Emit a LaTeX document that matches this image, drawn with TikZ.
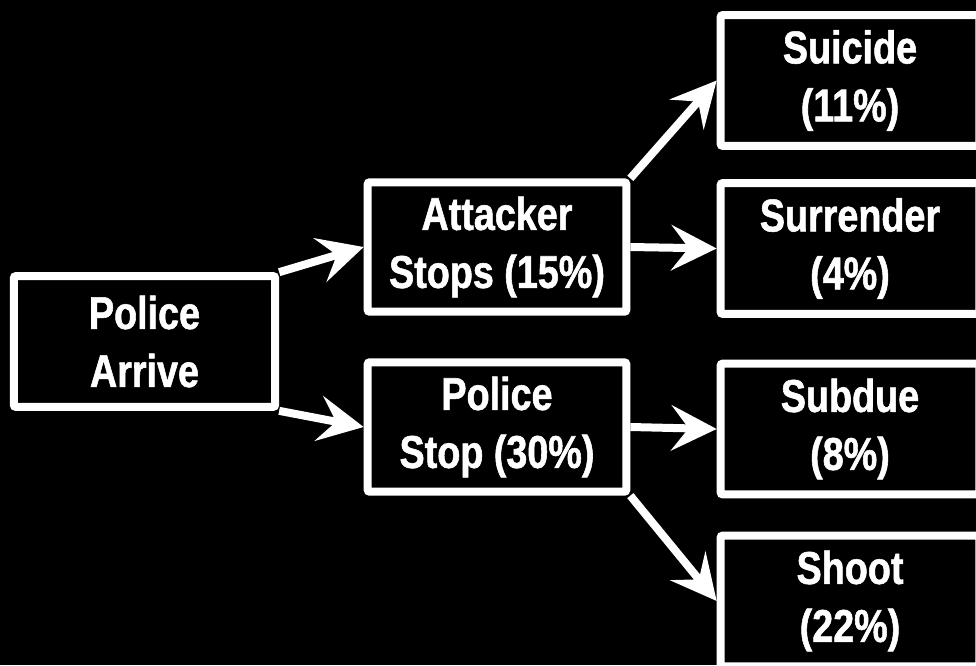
\documentclass[tikz,border=0pt]{standalone}
\usepackage{fontspec}
\usetikzlibrary{arrows.meta}
\newfontfamily\boxfont{Liberation Sans}[FakeStretch=0.82,FakeBold=1.2]

\begin{document}
\begin{tikzpicture}[x=0.75pt,y=-0.75pt,
  box/.style={draw=white,fill=black,line width=6pt,rounded corners=1.5pt,
    text=white,align=center,minimum width=194pt,minimum height=97pt,inner sep=0pt,
    font=\boxfont\bfseries\fontsize{34.5}{43.5}\selectfont},
  arr/.style={white,line width=6pt,-{Stealth[length=34pt,width=34pt,inset=13pt]}}]
\fill [black] (0,0) rectangle (976,665);
\useasboundingbox (0,0) rectangle (976,665);
\node [box,minimum width=196pt,minimum height=98pt] (arrive) at (144.5,341.5) {Police\\Arrive};
\node [box] (atk) at (497,247) {Attacker\\Stops (15\%)};
\node [box] (pst) at (497,427) {Police\\Stop (30\%)};
\node [box,minimum height=98pt] (sui) at (850,80.5) {Suicide\\(11\%)};
\node [box,minimum height=98pt] (sur) at (850,248.5) {Surrender\\(4\%)};
\node [box,minimum height=98pt] (sub) at (850,429) {Subdue\\(8\%)};
\node [box,minimum height=98pt] (sho) at (850,601) {Shoot\\(22\%)};
\draw [arr] (arrive.north east) -- (atk.west);
\draw [arr] (arrive.south east) -- (pst.west);
\draw [arr] (atk.north east) -- (sui.west);
\draw [arr] (atk.east) -- (sur.west);
\draw [arr] (pst.east) -- (sub.west);
\draw [arr] (pst.south east) -- (sho.west);
\end{tikzpicture}
\end{document}
